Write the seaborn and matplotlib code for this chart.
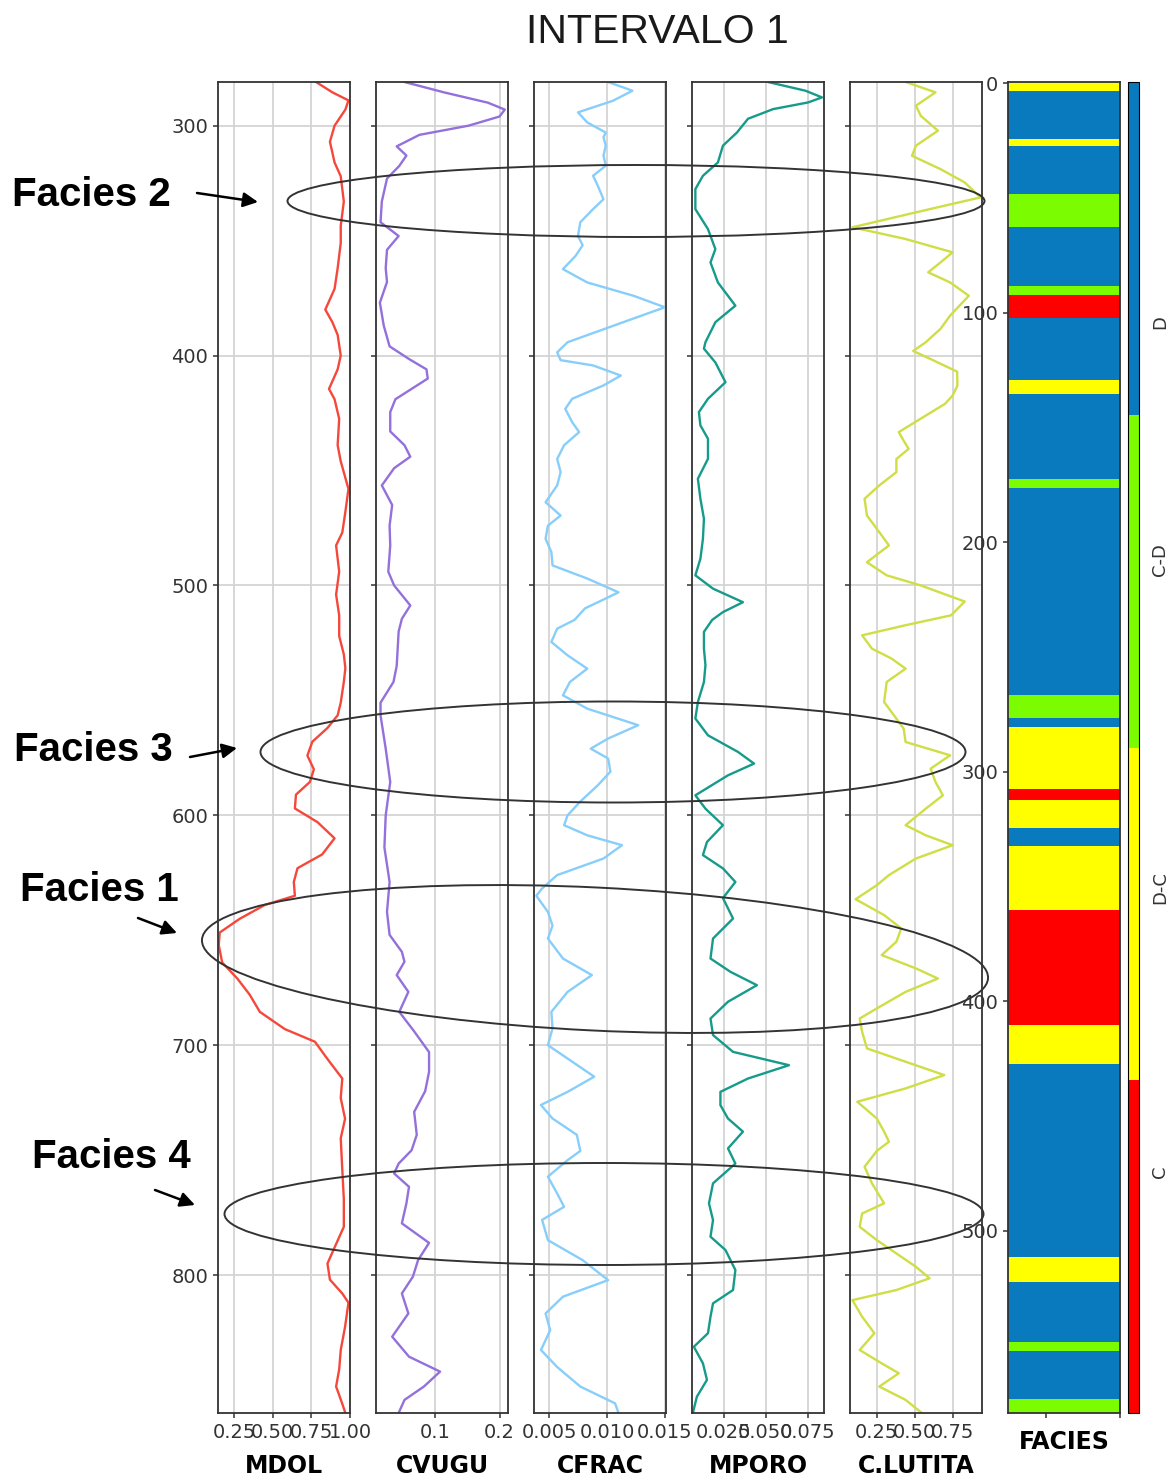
import numpy as np
import matplotlib
matplotlib.use("Agg")
import matplotlib.pyplot as plt
from matplotlib.colors import ListedColormap
from matplotlib.patches import Ellipse
from matplotlib.ticker import MultipleLocator
import seaborn as sns

# ---------------------------------------------------------------- log data
mdol_depth = [281, 285.5, 289, 293, 300, 307, 316, 322, 333, 343.5, 351, 362, 371, 380, 385.5,
              391, 400, 406, 414.5, 419, 427.5, 439, 446, 458, 468, 477, 482.6, 494, 504, 513,
              522, 530, 536, 542, 551, 556.5, 562, 568, 574, 580, 585.5, 591, 597, 603, 610,
              617, 623, 629, 635, 639, 645, 651, 656.5, 664, 671, 678, 685.5, 693, 698.5, 706,
              714.5, 723, 732, 740.5, 754, 767, 779, 788, 795, 802, 808, 812, 822.5, 832.6,
              841, 848.5, 856, 860]
mdol = [0.78, 0.886, 0.99, 0.97, 0.90, 0.87, 0.90, 0.94, 0.96, 0.94, 0.94, 0.92, 0.90, 0.84, 0.886,
        0.92, 0.94, 0.92, 0.864, 0.90, 0.93, 0.92, 0.94, 0.99, 0.97, 0.95, 0.91, 0.93, 0.91, 0.93,
        0.93, 0.96, 0.97, 0.96, 0.94, 0.92, 0.854, 0.756, 0.724, 0.766, 0.74, 0.65, 0.643, 0.79, 0.90,
        0.82, 0.66, 0.636, 0.643, 0.448, 0.286, 0.156, 0.15, 0.172, 0.27, 0.35, 0.416, 0.578, 0.773, 0.854,
        0.95, 0.94, 0.968, 0.94, 0.95, 0.96, 0.96, 0.90, 0.854, 0.87, 0.95, 0.99, 0.968, 0.94,
        0.93, 0.91, 0.95, 0.97]

cvugu_depth = [281, 285.5, 290, 293, 296, 300, 304, 309, 313, 317.5, 323, 333, 342, 348, 354,
               362, 368, 377, 387, 396, 401.5, 406, 410, 414.5, 419, 424.6, 433, 439, 444, 449,
               456.5, 465, 474, 482.6, 494, 500, 508.7, 514.5, 520, 535, 542, 551, 556.5, 571,
               585.5, 600, 614, 629, 642, 652, 659.4, 663.7, 669.5, 676.8, 685.5, 694, 703,
               711.6, 720, 729, 739, 745.7, 751.5, 755.8, 761.6, 768.8, 777.5, 786, 793.5,
               800.7, 808, 816.7, 826.8, 835.5, 842, 848.5, 854.3, 860]
cvugu = [0.053, 0.114, 0.182, 0.208, 0.200, 0.152, 0.076, 0.041, 0.056, 0.045, 0.026, 0.018, 0.016, 0.044, 0.026,
         0.024, 0.026, 0.015, 0.021, 0.030, 0.060, 0.087, 0.089, 0.064, 0.039, 0.031, 0.031, 0.053, 0.062, 0.037,
         0.018, 0.034, 0.030, 0.031, 0.028, 0.037, 0.062, 0.049, 0.044, 0.041, 0.036, 0.016, 0.016, 0.024,
         0.031, 0.024, 0.022, 0.030, 0.026, 0.030, 0.049, 0.053, 0.041, 0.059, 0.045, 0.068, 0.091,
         0.091, 0.085, 0.068, 0.072, 0.064, 0.044, 0.037, 0.060, 0.056, 0.049, 0.091, 0.074,
         0.066, 0.049, 0.059, 0.034, 0.060, 0.108, 0.083, 0.053, 0.044]

cfrac_depth = [281, 284.8, 289.2, 294.2, 298.6, 303, 305, 308.7, 313, 317.4, 321.8, 326, 332, 336.3,
               342, 348, 352, 356.6, 362.4, 368.2, 374, 379, 385.5, 394.2, 398.6, 402, 404.3, 408.7,
               413, 418.8, 423.2, 429, 433.3, 439, 445, 450.7, 456.5, 463.8, 469.6, 474, 479.7,
               485.5, 491.3, 497, 503, 510, 515, 518.8, 524.6, 530.4, 536.2, 542, 547.8, 553.6,
               560.8, 566.6, 571, 575.3, 581, 587, 594, 600, 604.3, 608.7, 613, 618.8, 626,
               631.8, 635, 642, 648, 653.6, 662.3, 669.5, 676.8, 685.5, 692.7, 700, 705.8, 713.7,
               720.3, 726, 731.9, 739, 746, 750, 757.2, 764.5, 770.3, 776, 784.8, 793.5, 802.2,
               809.4, 816.7, 824, 832.6, 840, 848.5, 855.8, 860]
cfrac = [0.0101, 0.0122, 0.0105, 0.0075, 0.0083, 0.0099, 0.0097, 0.0099, 0.0097, 0.0099, 0.0088, 0.0092, 0.0097, 0.0088,
         0.0077, 0.0075, 0.0079, 0.0073, 0.0062, 0.0083, 0.0123, 0.0150, 0.0114, 0.0066, 0.0057, 0.0060, 0.0088, 0.0112,
         0.0097, 0.0070, 0.0064, 0.0070, 0.0076, 0.0063, 0.0057, 0.0060, 0.0057, 0.0047, 0.0060, 0.0049, 0.0047,
         0.0052, 0.0053, 0.0083, 0.0110, 0.0081, 0.0072, 0.0057, 0.0052, 0.0066, 0.0083, 0.0068, 0.0062, 0.0083,
         0.0127, 0.0101, 0.0086, 0.0101, 0.0103, 0.0092, 0.0077, 0.0066, 0.0063, 0.0083, 0.0113, 0.0097, 0.0057,
         0.0044, 0.0039, 0.0049, 0.0053, 0.0049, 0.0062, 0.0087, 0.0066, 0.0052, 0.0053, 0.0049, 0.0066, 0.0089,
         0.0066, 0.0043, 0.0053, 0.0074, 0.0077, 0.0066, 0.0049, 0.0057, 0.0063, 0.0044, 0.0049, 0.0079, 0.0101,
         0.0062, 0.0047, 0.0051, 0.0043, 0.0057, 0.0077, 0.0107, 0.0110]

mporo_depth = [281, 284.8, 287.7, 289.9, 292.8, 297, 303, 308.7, 316, 321.8, 327.6, 336.3, 345, 353.7,
               359.5, 368.2, 378.3, 385.5, 394.2, 397, 403, 411.6, 418.8, 424.6, 430.4, 436.2, 444.9,
               453.6, 462.3, 471, 479.7, 488.4, 495.6, 501.4, 507.3, 511.6, 515, 520.2, 527.5, 534.7,
               542, 550.7, 557.9, 565.2, 572.4, 577.5, 582.6, 591.3, 597.1, 604.3, 611.6, 617.3,
               623.1, 629, 636, 644.9, 653.6, 662.3, 668.1, 673.9, 681.1, 688.4, 695.6, 702.9,
               708.7, 714.5, 720.3, 726.1, 731.9, 737.6, 744.9, 751.5, 760.1, 768.8, 776.1, 783.3,
               789.1, 797.8, 806.5, 812.3, 818.1, 825.3, 831.2, 838.4, 845.6, 852.9, 860]
mporo = [0.0512, 0.0735, 0.0833, 0.0750, 0.0542, 0.0393, 0.0327, 0.0244, 0.0214, 0.0125, 0.0080, 0.0080, 0.0155, 0.0199,
         0.0170, 0.0214, 0.0318, 0.0199, 0.0140, 0.0131, 0.0199, 0.0259, 0.0155, 0.0101, 0.0110, 0.0155, 0.0155,
         0.0095, 0.0110, 0.0131, 0.0125, 0.0110, 0.0080, 0.0185, 0.0363, 0.0244, 0.0180, 0.0131, 0.0131, 0.0140,
         0.0131, 0.0095, 0.0080, 0.0155, 0.0333, 0.0429, 0.0274, 0.0080, 0.0140, 0.0244, 0.0149, 0.0125,
         0.0244, 0.0318, 0.0244, 0.0304, 0.0185, 0.0170, 0.0289, 0.0446, 0.0274, 0.0170, 0.0185, 0.0304,
         0.0637, 0.0393, 0.0229, 0.0229, 0.0274, 0.0363, 0.0274, 0.0318, 0.0185, 0.0161, 0.0185, 0.0170,
         0.0259, 0.0318, 0.0304, 0.0185, 0.0170, 0.0155, 0.0071, 0.0125, 0.0149, 0.0089, 0.0065]

lutita_depth = [281, 285.5, 291.3, 295.7, 302.2, 308.7, 313.1, 318.9, 324.7, 331.2, 337.7, 344.2, 349.3,
                355.1, 359.5, 363.8, 368.2, 374, 382.6, 388.4, 394.2, 398, 402, 407, 413, 417.4, 421,
                426.1, 433.3, 437, 440.6, 445, 450.7, 456.5, 462.3, 469.6, 476.8, 482.6, 489.9, 495.6,
                500, 507, 513, 517.3, 521.7, 527.5, 531.8, 536.2, 542, 550.7, 556.5, 562.3, 568.1,
                573.9, 579.7, 585.5, 591.3, 597.1, 604.3, 608.7, 613, 618.8, 626, 630.4, 636.5, 643.4,
                649.2, 655, 660.8, 666.6, 671, 676.8, 684, 688.4, 694.2, 701.4, 707.2, 713, 718.8,
                724.6, 731.9, 737.6, 742, 746, 752.9, 760.1, 768.8, 773.2, 779, 784.8, 790.6, 796.4,
                801.4, 806.5, 810.9, 818.1, 825.3, 832.6, 838.4, 842.7, 848.5, 854.3, 860]
lutita = [0.44, 0.637, 0.508, 0.54, 0.653, 0.508, 0.482, 0.67, 0.83, 0.934, 0.508, 0.089, 0.44,
          0.75, 0.67, 0.589, 0.734, 0.857, 0.734, 0.67, 0.573, 0.49, 0.62, 0.78, 0.782, 0.75, 0.70,
          0.573, 0.395, 0.427, 0.46, 0.379, 0.379, 0.266, 0.169, 0.185, 0.266, 0.33, 0.185, 0.315,
          0.54, 0.83, 0.74, 0.44, 0.153, 0.218, 0.347, 0.44, 0.315, 0.298, 0.363, 0.427, 0.44,
          0.734, 0.605, 0.637, 0.686, 0.573, 0.44, 0.573, 0.75, 0.508, 0.33, 0.25, 0.11, 0.298,
          0.411, 0.379, 0.282, 0.508, 0.653, 0.44, 0.25, 0.137, 0.153, 0.185, 0.44, 0.695, 0.44,
          0.121, 0.25, 0.298, 0.33, 0.25, 0.169, 0.218, 0.298, 0.153, 0.137, 0.25, 0.379, 0.508,
          0.598, 0.379, 0.089, 0.153, 0.234, 0.137, 0.282, 0.395, 0.266, 0.44, 0.547]

# facies column: sample index boundaries and class code of each interval
# codes: 1 = C, 2 = D-C, 3 = C-D, 4 = D
facies_bounds = [0, 4, 25, 28, 49, 63, 89, 93, 103, 130, 136, 173, 177, 267, 277, 281, 308,
                 313, 325, 333, 361, 411, 428, 512, 523, 549, 553, 574, 580]
facies_codes = [2, 4, 2, 4, 3, 4, 3, 1, 4, 2, 4, 3, 4, 3, 4, 2, 1, 2, 4, 2, 1, 2, 4, 2, 4, 3, 4, 3]
facies_names = ["C", "D-C", "C-D", "D"]
facies_colors = ["#ff0000", "#ffff00", "#7cfc00", "#0a7abf"]

log_names = ["MDOL", "CVUGU", "CFRAC", "MPORO", "C.LUTITA"]
log_colors = ["#f5483b", "#9370db", "#87cefa", "#169b8b", "#cfde45"]
log_limits = [(0.145, 1.0), (0.009, 0.213), (0.0037, 0.0151), (0.006, 0.0845), (0.073, 0.944)]
log_steps = [0.25, 0.1, 0.005, 0.025, 0.25]
depth_ticks = [300, 400, 500, 600, 700, 800]
depth_range = (860, 281)

# ---------------------------------------------------------------- figure
W, H = 1172, 1480
fig = plt.figure(figsize=(W / 100, H / 100), dpi=100)
fig.patch.set_facecolor("white")


def rect(x0, x1, y0=82, y1=1413):
    return [x0 / W, 1 - y1 / H, (x1 - x0) / W, (y1 - y0) / H]


spine_color = "#333333"
logs = [(mdol_depth, mdol), (cvugu_depth, cvugu), (cfrac_depth, cfrac),
        (mporo_depth, mporo), (lutita_depth, lutita)]

for i, ((dep, val), name, col, lim, step) in enumerate(
        zip(logs, log_names, log_colors, log_limits, log_steps)):
    x0 = 218 + 158 * i
    ax = fig.add_axes(rect(x0, x0 + 132))
    sns.lineplot(x=val, y=dep, orient="y", sort=False, color=col, lw=1.7, ax=ax,
                 solid_joinstyle="round", solid_capstyle="round")
    ax.set_ylim(*depth_range)
    ax.set_xlim(*lim)
    ax.xaxis.set_major_locator(MultipleLocator(step))
    ax.set_yticks(depth_ticks)
    ax.grid(True, color="#d4d4d4", lw=1.3)
    ax.set_axisbelow(True)
    ax.tick_params(labelsize=14, labelleft=(i == 0), colors="#333333", width=1.1)
    ax.set_ylabel("")
    ax.set_xlabel(name, fontsize=17, fontweight="bold", labelpad=9)
    for s in ax.spines.values():
        s.set_color(spine_color)
        s.set_linewidth(1.3)

# facies column
facies = np.repeat(facies_codes, np.diff(facies_bounds))
cmap = ListedColormap(facies_colors)
axf = fig.add_axes(rect(1008, 1120))
im = axf.imshow(np.repeat(facies[:, None], 10, axis=1), aspect="auto", cmap=cmap,
                vmin=0.5, vmax=4.5, interpolation="nearest")
axf.set_xticks([2.9, 9.5])
axf.set_xticklabels([])
axf.set_yticks([0, 100, 200, 300, 400, 500])
axf.tick_params(labelsize=14, colors="#333333", width=1.1)
axf.set_xlabel("FACIES", fontsize=17, fontweight="bold", labelpad=5)
for s in axf.spines.values():
    s.set_color(spine_color)
    s.set_linewidth(1.3)

cax = fig.add_axes(rect(1128, 1139))
cbar = fig.colorbar(im, cax=cax, ticks=[])
cbar.outline.set_linewidth(0.8)
for name, yfrac in zip(facies_names, [0.181, 0.395, 0.641, 0.820]):
    cax.text(2.9, yfrac, name, rotation=90, ha="center", va="center",
             fontsize=13, color="#333333", transform=cax.transAxes)

# ---------------------------------------------------------------- annotations
ov = fig.add_axes([0, 0, 1, 1], zorder=10)
ov.set_xlim(0, W)
ov.set_ylim(H, 0)
ov.set_axis_off()
ov.patch.set_alpha(0)

ov.text(657, 32, "INTERVALO 1", ha="center", va="center", fontsize=29.5,
        family="Liberation Sans", color="#1a1a1a")

ellipses = [((636, 201), 697, 72, 0), ((613, 752), 705, 101, 0),
            ((595, 959), 787, 143, 2.8), ((604, 1214), 759, 102, 0)]
for (cx, cy), w, h, ang in ellipses:
    ov.add_patch(Ellipse((cx, cy), w, h, angle=ang, fill=False,
                         ec="#333333", lw=1.4))

labels = [("Facies 2", 12, 195, (197, 193), (258, 202)),
          ("Facies 3", 14, 750, (190, 757), (237, 748)),
          ("Facies 1", 20, 890, (138, 918), (177, 933)),
          ("Facies 4", 32, 1157, (155, 1190), (195, 1205))]
for txt, tx, ty, a0, a1 in labels:
    ov.text(tx, ty, txt, ha="left", va="center", fontsize=29, fontweight="bold",
            family="Liberation Sans", color="black")
    ov.annotate("", xy=a1, xytext=a0,
                arrowprops=dict(arrowstyle="-|>", color="black", lw=1.8,
                                mutation_scale=22, shrinkA=0, shrinkB=0))

fig.savefig("out.png", dpi=100)
